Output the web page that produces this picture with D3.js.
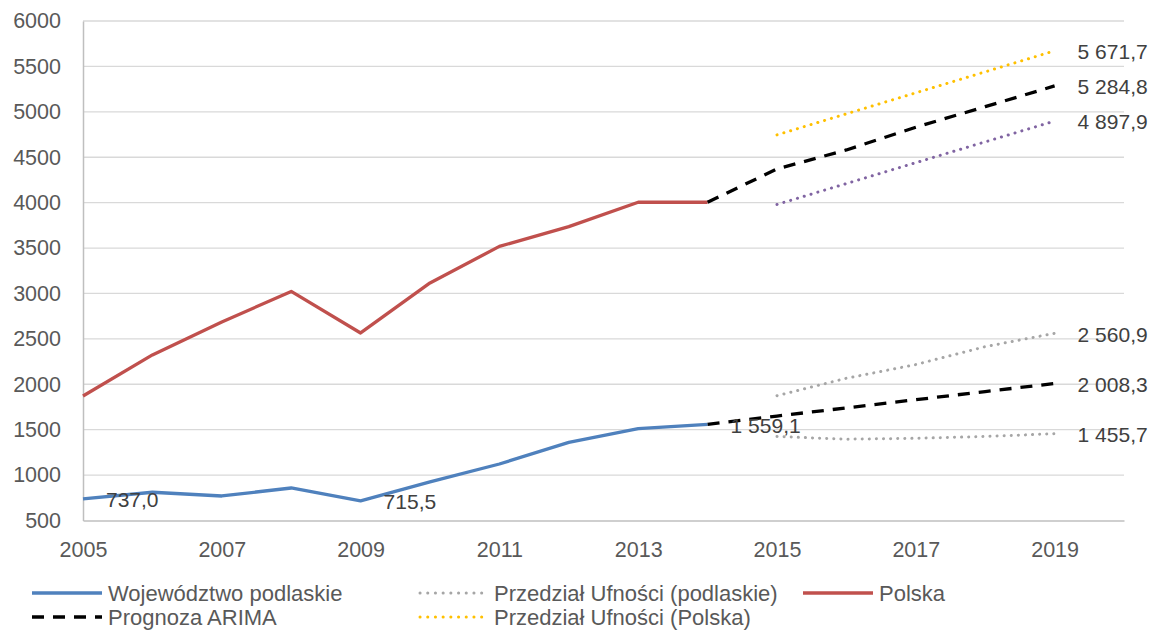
<!DOCTYPE html>
<html>
<head>
<meta charset="utf-8">
<script src="https://cdn.jsdelivr.net/npm/d3@7"></script>
<style>
  body { margin: 0; background: #fff; }
  text { font-family: "Liberation Sans", Arial, sans-serif; }
</style>
</head>
<body>
<div id="chart"></div>
<script>
// history
const years = [2005, 2006, 2007, 2008, 2009, 2010, 2011, 2012, 2013, 2014];
const podlaskie = [737.0, 811, 770, 858, 715.5, 925, 1122, 1361, 1511, 1559.1];
const polska = [1871, 2323, 2686, 3022, 2565, 3116, 3518, 3736, 4004, 4004];

// ARIMA forecast (starts from last observed value)
const forecastYears = [2014, 2015, 2016, 2017, 2018, 2019];
const arimaPodlaskie = [1559.1, 1650, 1740, 1830, 1920, 2008.3];
const arimaPolska = [4004, 4371, 4580, 4830, 5057, 5284.8];

// confidence intervals
const ciYears = [2015, 2016, 2017, 2018, 2019];
const ciPodlaskieUpper = [1874, 2066, 2217, 2414, 2560.9];
const ciPodlaskieLower = [1425, 1395, 1405, 1425, 1455.7];
const ciPolskaUpper = [4746, 4978, 5209, 5440, 5671.7];
const ciPolskaLower = [3980, 4210, 4440, 4669, 4897.9];

const xTicks = [2005, 2007, 2009, 2011, 2013, 2015, 2017, 2019];
const yTicks = [500, 1000, 1500, 2000, 2500, 3000, 3500, 4000, 4500, 5000, 5500, 6000];

const width = 1153;
const height = 630;
const margin = { top: 21, right: 29, bottom: 109.5, left: 83 };

const svg = d3.select("#chart")
  .append("svg")
  .attr("width", width)
  .attr("height", height);

const x = d3.scaleLinear()
  .domain([2005, 2020])
  .range([margin.left, width - margin.right]);

const y = d3.scaleLinear()
  .domain([500, 6000])
  .range([height - margin.bottom, margin.top]);

const pl = d3.formatLocale({ decimal: ",", thousands: " ", grouping: [3], currency: ["", " zł"] });
const fmt = pl.format(",.1f");

// gridlines
svg.append("g")
  .selectAll("line")
  .data(yTicks.slice(1))
  .enter().append("line")
  .attr("x1", x(2005))
  .attr("x2", x(2020))
  .attr("y1", d => y(d))
  .attr("y2", d => y(d))
  .style("stroke", "#d9d9d9")
  .style("stroke-width", 1.3);

// axes
const yAxis = d3.axisLeft(y).tickValues(yTicks).tickSize(0).tickPadding(22).tickFormat(d3.format("d"));
const gy = svg.append("g")
  .attr("transform", `translate(${margin.left},0)`)
  .call(yAxis);
gy.select(".domain").style("stroke", "#bfbfbf").style("stroke-width", 1.5);
gy.selectAll("text").style("font-size", "21.5px").style("fill", "#595959");

const xAxis = d3.axisBottom(x).tickValues(xTicks).tickSize(0).tickPadding(21).tickFormat(d3.format("d"));
const gx = svg.append("g")
  .attr("transform", `translate(0,${y(500)})`)
  .call(xAxis);
gx.select(".domain").style("stroke", "#bfbfbf").style("stroke-width", 1.5);
gx.selectAll("text").style("font-size", "21.5px").style("fill", "#595959");

const line = d3.line()
  .x(d => x(d[0]))
  .y(d => y(d[1]));

const series = [
  { xs: years, ys: podlaskie, color: "#4f81bd", dash: null },
  { xs: ciYears, ys: ciPodlaskieUpper, color: "#a6a6a6", dash: "0.1 7" },
  { xs: ciYears, ys: ciPodlaskieLower, color: "#a6a6a6", dash: "0.1 7" },
  { xs: years, ys: polska, color: "#c0504d", dash: null },
  { xs: forecastYears, ys: arimaPodlaskie, color: "#000000", dash: "12 9" },
  { xs: forecastYears, ys: arimaPolska, color: "#000000", dash: "12 9" },
  { xs: ciYears, ys: ciPolskaUpper, color: "#ffc000", dash: "0.1 7" },
  { xs: ciYears, ys: ciPolskaLower, color: "#8064a2", dash: "0.1 7" }
];

svg.append("g")
  .selectAll("path")
  .data(series)
  .enter().append("path")
  .attr("d", s => line(d3.zip(s.xs, s.ys)))
  .style("fill", "none")
  .style("stroke", s => s.color)
  .style("stroke-width", s => s.dash === "0.1 7" ? 3 : 3.3)
  .style("stroke-dasharray", s => s.dash)
  .style("stroke-linecap", s => s.dash === "0.1 7" ? "round" : "butt")
  .style("stroke-linejoin", "round");

// data labels
const labels = [
  [2005, podlaskie[0]],
  [2009, podlaskie[4]],
  [2014, podlaskie[9]],
  [2019, ciPolskaUpper[4]],
  [2019, arimaPolska[5]],
  [2019, ciPolskaLower[4]],
  [2019, ciPodlaskieUpper[4]],
  [2019, arimaPodlaskie[5]],
  [2019, ciPodlaskieLower[4]]
];

svg.append("g")
  .selectAll("text")
  .data(labels)
  .enter().append("text")
  .attr("x", d => x(d[0]) + 23)
  .attr("y", d => y(d[1]))
  .attr("dy", "0.4em")
  .style("font-size", "21px")
  .style("fill", "#404040")
  .text(d => fmt(d[1]));

// legend
const legendItems = [
  { name: "Województwo podlaskie", color: "#4f81bd", dash: null, col: 0, row: 0 },
  { name: "Przedział Ufności (podlaskie)", color: "#a6a6a6", dash: "0.1 7", col: 1, row: 0 },
  { name: "Polska", color: "#c0504d", dash: null, col: 2, row: 0 },
  { name: "Prognoza ARIMA", color: "#000000", dash: "12 9", col: 0, row: 1 },
  { name: "Przedział Ufności (Polska)", color: "#ffc000", dash: "0.1 7", col: 1, row: 1 }
];
const colX = [32, 418, 803];
const rowY = [593, 617];

const legend = svg.append("g")
  .selectAll("g")
  .data(legendItems)
  .enter().append("g")
  .attr("transform", d => `translate(${colX[d.col]},${rowY[d.row]})`);

legend.append("line")
  .attr("x1", d => d.dash === "0.1 7" ? 2 : 0)
  .attr("x2", 70)
  .attr("y1", 0)
  .attr("y2", 0)
  .style("stroke", d => d.color)
  .style("stroke-width", d => d.dash === "0.1 7" ? 3 : 3.3)
  .style("stroke-dasharray", d => d.dash === "0.1 7" ? "0.1 7.6" : d.dash)
  .style("stroke-linecap", d => d.dash === "0.1 7" ? "round" : "butt");

legend.append("text")
  .attr("x", 76)
  .attr("y", 0)
  .attr("dy", "0.36em")
  .style("font-size", "22px")
  .style("fill", "#595959")
  .text(d => d.name);
</script>
</body>
</html>
